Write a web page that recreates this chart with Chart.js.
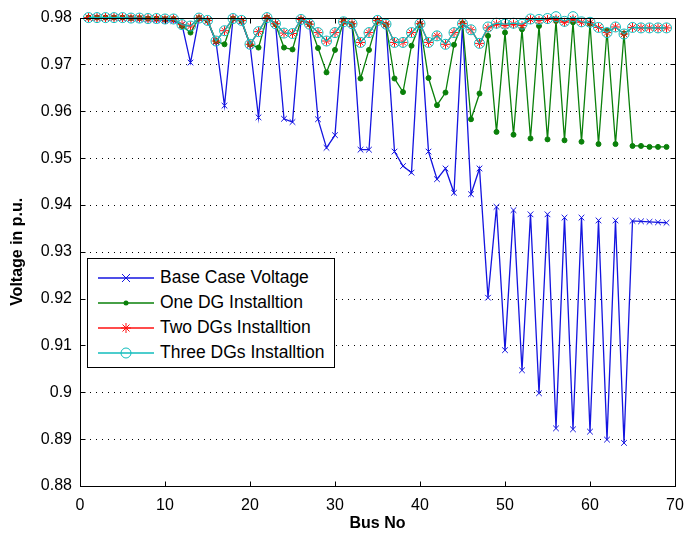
<!DOCTYPE html>
<html>
<head>
<meta charset="utf-8">
<script src="https://cdn.jsdelivr.net/npm/chart.js@4.4.1/dist/chart.umd.min.js"></script>
<style>
  body { margin: 0; background: #fff; }
  #wrap { position: relative; width: 684px; height: 536px; }
  #legend {
    position: absolute; left: 87px; top: 258px; width: 248px; height: 110px;
    border: 1px solid #000; background: #fff; box-sizing: border-box; padding-top: 6px;
    font-family: 'Liberation Sans', Arial, sans-serif; font-size: 17.5px; color: #000;
  }
  .row { height: 25px; display: flex; align-items: center; white-space: nowrap; }
  .row svg { margin-left: 10px; margin-right: 6px; }
</style>
</head>
<body>
<div id="wrap">
  <canvas id="voltageChart" width="684" height="536"></canvas>
  <div id="legend"></div>
</div>
<script>
// Numero dei bus (asse x)
const buses = [1, 2, 3, 4, 5, 6, 7, 8, 9, 10, 11, 12, 13, 14, 15, 16, 17, 18, 19, 20,
    21, 22, 23, 24, 25, 26, 27, 28, 29, 30, 31, 32, 33, 34, 35, 36, 37, 38, 39, 40,
    41, 42, 43, 44, 45, 46, 47, 48, 49, 50, 51, 52, 53, 54, 55, 56, 57, 58, 59, 60,
    61, 62, 63, 64, 65, 66, 67, 68, 69];

// Tensioni (p.u.)
const baseCase = [0.9800, 0.9800, 0.9800, 0.9800, 0.9799, 0.9798, 0.9797, 0.9796, 0.9795, 0.9794,
    0.9793, 0.9785, 0.9704, 0.9798, 0.9793, 0.9748, 0.9612, 0.9798, 0.9792, 0.9742,
    0.9587, 0.9799, 0.9787, 0.9584, 0.9577, 0.9795, 0.9787, 0.9583, 0.9522, 0.9549,
    0.9791, 0.9786, 0.9518, 0.9518, 0.9793, 0.9785, 0.9514, 0.9483, 0.9469, 0.9786,
    0.9514, 0.9455, 0.9478, 0.9426, 0.9786, 0.9423, 0.9478, 0.9202, 0.9396, 0.9090,
    0.9389, 0.9047, 0.9380, 0.8998, 0.9380, 0.8923, 0.9373, 0.8921, 0.9373, 0.8916,
    0.9367, 0.8899, 0.9367, 0.8892, 0.9366, 0.9365, 0.9364, 0.9363, 0.9362];

const oneDG = [0.9800, 0.9800, 0.9800, 0.9800, 0.9800, 0.9799, 0.9799, 0.9798, 0.9798, 0.9797,
    0.9797, 0.9782, 0.9768, 0.9799, 0.9794, 0.9750, 0.9743, 0.9798, 0.9793, 0.9743,
    0.9736, 0.9800, 0.9786, 0.9736, 0.9732, 0.9796, 0.9786, 0.9735, 0.9683, 0.9731,
    0.9791, 0.9786, 0.9670, 0.9731, 0.9793, 0.9785, 0.9670, 0.9641, 0.9740, 0.9786,
    0.9671, 0.9613, 0.9640, 0.9742, 0.9788, 0.9583, 0.9638, 0.9761, 0.9556, 0.9768,
    0.9550, 0.9775, 0.9542, 0.9782, 0.9540, 0.9793, 0.9538, 0.9790, 0.9535, 0.9787,
    0.9530, 0.9772, 0.9530, 0.9766, 0.9526, 0.9526, 0.9524, 0.9524, 0.9524];

const twoDGs = [0.9800, 0.9800, 0.9800, 0.9800, 0.9800, 0.9799, 0.9799, 0.9798, 0.9798, 0.9797,
    0.9797, 0.9785, 0.9782, 0.9799, 0.9794, 0.9750, 0.9772, 0.9798, 0.9794, 0.9743,
    0.9770, 0.9800, 0.9787, 0.9767, 0.9766, 0.9796, 0.9786, 0.9768, 0.9750, 0.9768,
    0.9791, 0.9787, 0.9747, 0.9768, 0.9794, 0.9786, 0.9747, 0.9747, 0.9768, 0.9787,
    0.9747, 0.9761, 0.9743, 0.9768, 0.9787, 0.9774, 0.9745, 0.9778, 0.9786, 0.9783,
    0.9786, 0.9783, 0.9796, 0.9794, 0.9796, 0.9797, 0.9790, 0.9797, 0.9790, 0.9789,
    0.9779, 0.9768, 0.9780, 0.9765, 0.9779, 0.9778, 0.9778, 0.9778, 0.9778];

const threeDGs = [0.9800, 0.9800, 0.9800, 0.9800, 0.9800, 0.9799, 0.9799, 0.9798, 0.9798, 0.9797,
    0.9797, 0.9785, 0.9782, 0.9799, 0.9794, 0.9750, 0.9772, 0.9798, 0.9794, 0.9743,
    0.9770, 0.9800, 0.9787, 0.9767, 0.9766, 0.9796, 0.9786, 0.9768, 0.9750, 0.9768,
    0.9791, 0.9787, 0.9747, 0.9768, 0.9794, 0.9786, 0.9747, 0.9747, 0.9768, 0.9787,
    0.9747, 0.9761, 0.9743, 0.9768, 0.9787, 0.9774, 0.9745, 0.9780, 0.9788, 0.9786,
    0.9788, 0.9786, 0.9797, 0.9796, 0.9798, 0.9802, 0.9792, 0.9802, 0.9791, 0.9790,
    0.9779, 0.9768, 0.9780, 0.9765, 0.9779, 0.9778, 0.9778, 0.9778, 0.9778];

const xTicks = [0, 10, 20, 30, 40, 50, 60, 70];
const yTicks = [0.88, 0.89, 0.9, 0.91, 0.92, 0.93, 0.94, 0.95, 0.96, 0.97, 0.98];

const seriesNames = ['Base Case Voltage', 'One DG Installtion', 'Two DGs Installtion', 'Three DGs Installtion'];
const seriesColors = ['#1414e0', '#0a800a', '#ff1010', '#10bcbc'];

const FONT = "'Liberation Sans', Arial, sans-serif";

function toPoints(values) {
    return values.map((v, i) => ({ x: buses[i], y: v }));
}

const datasets = [
    { label: seriesNames[0], data: toPoints(baseCase), borderColor: seriesColors[0],
      pointStyle: 'crossRot', pointRadius: 4, pointBorderColor: seriesColors[0],
      pointBackgroundColor: seriesColors[0], order: 4 },
    { label: seriesNames[1], data: toPoints(oneDG), borderColor: seriesColors[1],
      pointStyle: 'circle', pointRadius: 2.5, pointBorderColor: seriesColors[1],
      pointBackgroundColor: seriesColors[1], order: 3 },
    { label: seriesNames[2], data: toPoints(twoDGs), borderColor: seriesColors[2],
      pointStyle: 'star', pointRadius: 4.5, pointBorderColor: seriesColors[2],
      pointBackgroundColor: seriesColors[2], order: 2 },
    { label: seriesNames[3], data: toPoints(threeDGs), borderColor: seriesColors[3],
      pointStyle: 'circle', pointRadius: 5, pointBorderColor: seriesColors[3],
      pointBackgroundColor: 'rgba(0,0,0,0)', order: 1 }
];
datasets.forEach(d => {
    d.borderWidth = 1.3;
    d.pointBorderWidth = 1;
    d.tension = 0;
    d.clip = false;
    d.fill = false;
});

// Cornice, tacche interne e griglia punteggiata in stile MATLAB
const matlabFrame = {
    id: 'matlabFrame',
    beforeDatasetsDraw(chart) {
        const { ctx, chartArea: a, scales: { y } } = chart;
        ctx.save();
        ctx.strokeStyle = '#000';
        ctx.lineWidth = 1;
        ctx.setLineDash([1, 5]);
        yTicks.forEach(v => {
            const py = Math.round(y.getPixelForValue(v)) + 0.5;
            if (py < a.top + 2 || py > a.bottom - 2) return;
            ctx.beginPath();
            ctx.moveTo(a.left + 4, py);
            ctx.lineTo(a.right, py);
            ctx.stroke();
        });
        ctx.restore();
    },
    afterDatasetsDraw(chart) {
        const { ctx, chartArea: a, scales: { x, y } } = chart;
        const L = Math.round(a.left) + 0.5, R = Math.round(a.right) + 0.5;
        const T = Math.round(a.top) + 0.5, B = Math.round(a.bottom) + 0.5;
        ctx.save();
        ctx.strokeStyle = '#000';
        ctx.lineWidth = 1;
        ctx.strokeRect(L, T, R - L, B - T);
        ctx.beginPath();
        xTicks.forEach(v => {
            const px = Math.round(x.getPixelForValue(v)) + 0.5;
            ctx.moveTo(px, B); ctx.lineTo(px, B - 5);
            ctx.moveTo(px, T); ctx.lineTo(px, T + 5);
        });
        yTicks.forEach(v => {
            const py = Math.round(y.getPixelForValue(v)) + 0.5;
            ctx.moveTo(L, py); ctx.lineTo(L + 5, py);
            ctx.moveTo(R, py); ctx.lineTo(R - 5, py);
        });
        ctx.stroke();
        ctx.restore();
    }
};

const voltageChart = new Chart(document.getElementById('voltageChart'), {
    type: 'line',
    data: { datasets: datasets },
    options: {
        responsive: false,
        animation: false,
        devicePixelRatio: 1,
        layout: { padding: { top: 15, right: 0, left: 0, bottom: 0 } },
        plugins: { legend: { display: false }, tooltip: { enabled: false } },
        scales: {
            x: {
                type: 'linear', min: 0, max: 70,
                afterBuildTicks: s => { s.ticks = xTicks.map(v => ({ value: v })); },
                afterFit: s => { s.height = 50; s.paddingRight = 9; },
                grid: { display: false, drawTicks: false },
                border: { display: false },
                ticks: { color: '#000', padding: 10, font: { family: FONT, size: 16 } },
                title: { display: true, text: 'Bus No', color: '#000',
                         padding: { top: 0, bottom: 3 },
                         font: { family: FONT, size: 16, weight: 'bold' } }
            },
            y: {
                type: 'linear', min: 0.88, max: 0.98,
                afterBuildTicks: s => { s.ticks = yTicks.map(v => ({ value: v })); },
                afterFit: s => { s.width = 80; },
                grid: { display: false, drawTicks: false },
                border: { display: false },
                ticks: { color: '#000', padding: 8, font: { family: FONT, size: 16 },
                         callback: v => String(parseFloat(v.toFixed(2))) },
                title: { display: true, text: 'Voltage in p.u.', color: '#000',
                         padding: { top: 8, bottom: 0 },
                         font: { family: FONT, size: 16, weight: 'bold' } }
            }
        }
    },
    plugins: [matlabFrame]
});

// Legenda dentro il grafico, come in MATLAB
function markerSvg(i) {
    const c = seriesColors[i];
    if (i === 0) return `<line x1="24" y1="3" x2="32" y2="11" stroke="${c}"/><line x1="32" y1="3" x2="24" y2="11" stroke="${c}"/>`;
    if (i === 1) return `<circle cx="28" cy="7" r="2.5" fill="${c}"/>`;
    if (i === 2) return `<line x1="28" y1="2" x2="28" y2="12" stroke="${c}"/><line x1="23" y1="7" x2="33" y2="7" stroke="${c}"/>` +
        `<line x1="24.5" y1="3.5" x2="31.5" y2="10.5" stroke="${c}"/><line x1="31.5" y1="3.5" x2="24.5" y2="10.5" stroke="${c}"/>`;
    return `<circle cx="28" cy="7" r="5" fill="none" stroke="${c}"/>`;
}
const legendBox = document.getElementById('legend');
seriesNames.forEach((name, i) => {
    const row = document.createElement('div');
    row.className = 'row';
    row.innerHTML = `<svg width="56" height="14"><line x1="0" y1="7" x2="56" y2="7" stroke="${seriesColors[i]}" stroke-width="1.3"/>${markerSvg(i)}</svg><span>${name}</span>`;
    legendBox.appendChild(row);
});
</script>
</body>
</html>
